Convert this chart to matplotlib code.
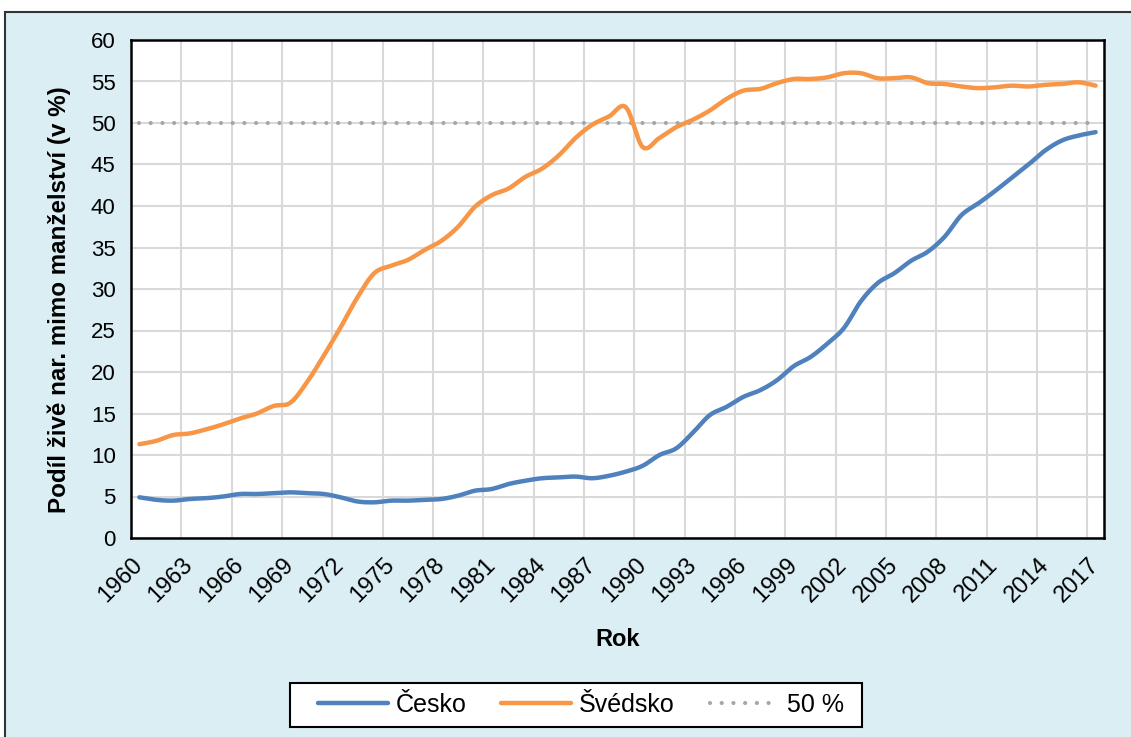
import numpy as np
import matplotlib
matplotlib.use('Agg')
import matplotlib.pyplot as plt
from matplotlib.patches import Rectangle

plt.rcParams['font.family'] = ['Liberation Sans', 'DejaVu Sans']

# ---------------------------------------------------------------------------
# data (share of live births outside marriage, %)
years = np.arange(1960, 2018)
cesko = [4.9, 4.6, 4.5, 4.7, 4.8, 5.0, 5.3, 5.3, 5.4, 5.5,
         5.4, 5.3, 4.9, 4.4, 4.3, 4.5, 4.5, 4.6, 4.7, 5.1,
         5.7, 5.9, 6.5, 6.9, 7.2, 7.3, 7.4, 7.2, 7.5, 8.0,
         8.7, 10.0, 10.8, 12.7, 14.8, 15.8, 17.0, 17.8, 19.0, 20.7,
         21.8, 23.4, 25.3, 28.5, 30.7, 31.9, 33.4, 34.5, 36.3, 38.9,
         40.3, 41.8, 43.4, 45.0, 46.7, 47.9, 48.5, 48.9]
svedsko = [11.3, 11.7, 12.4, 12.6, 13.1, 13.7, 14.4, 15.0, 15.9, 16.3,
           18.8, 22.0, 25.4, 29.0, 31.9, 32.8, 33.5, 34.7, 35.8, 37.5,
           39.9, 41.3, 42.1, 43.5, 44.5, 46.1, 48.2, 49.8, 50.8, 51.9,
           47.1, 48.2, 49.5, 50.4, 51.5, 52.9, 53.9, 54.1, 54.8, 55.3,
           55.3, 55.5, 56.0, 56.0, 55.4, 55.4, 55.5, 54.8, 54.7, 54.4,
           54.2, 54.3, 54.5, 54.4, 54.6, 54.7, 54.9, 54.5]
threshold = 50
labels = ['Česko', 'Švédsko', '50 %']
xtick_years = np.arange(1960, 2018, 3)

c_cz = '#4F81BD'
c_se = '#F79646'
c_bg = '#DAEEF3'


def smooth(x, y, n=12):
    # Catmull-Rom style smoothing, like Excel "smoothed line"
    x = np.asarray(x, float)
    y = np.asarray(y, float)
    px = np.concatenate([[2 * x[0] - x[1]], x, [2 * x[-1] - x[-2]]])
    py = np.concatenate([[2 * y[0] - y[1]], y, [2 * y[-1] - y[-2]]])
    xs, ys = [], []
    t = np.linspace(0, 1, n, endpoint=False)
    for i in range(1, len(px) - 2):
        for arr, out in ((px, xs), (py, ys)):
            p0, p1, p2, p3 = arr[i - 1], arr[i], arr[i + 1], arr[i + 2]
            out.extend(0.5 * ((2 * p1) + (-p0 + p2) * t
                              + (2 * p0 - 5 * p1 + 4 * p2 - p3) * t ** 2
                              + (-p0 + 3 * p1 - 3 * p2 + p3) * t ** 3))
    xs.append(x[-1])
    ys.append(y[-1])
    return np.array(xs), np.array(ys)


W, H = 1131, 737
fig = plt.figure(figsize=(W / 100, H / 100), dpi=100)
fig.patch.set_facecolor('white')
# light blue chart area with frame
fig.patches.append(Rectangle((5 / W, -0.02), 1.0, 1 - 12 / H + 0.02,
                             transform=fig.transFigure, facecolor=c_bg,
                             edgecolor='#333333', linewidth=1.5, zorder=-10))
# legend box (Excel style, wide padding)
fig.patches.append(Rectangle((290 / W, 1 - 727 / H), (862 - 290) / W, 44 / H,
                             transform=fig.transFigure, facecolor='white',
                             edgecolor='black', linewidth=1.5, zorder=-5))

ax = fig.add_axes([131 / W, 1 - 538 / H, (1104 - 131) / W, (538 - 40) / H])
ax.set_zorder(1)
ax.set_facecolor('white')

xs, ys = smooth(years, cesko)
ax.plot(xs, ys, color=c_cz, lw=3.2, solid_capstyle='round', label=labels[0], zorder=3)
xs, ys = smooth(years, svedsko)
ax.plot(xs, ys, color=c_se, lw=3.2, solid_capstyle='round', label=labels[1], zorder=3)
ax.plot([years[0], years[-1]], [threshold, threshold], color='#A6A6A6', lw=3,
        linestyle=(0, (0.01, 2.8)), dash_capstyle='round', label=labels[2], zorder=2)

ax.set_xlim(1959.5, 2017.5)
ax.set_ylim(0, 60)
ax.set_yticks(np.arange(0, 61, 5))
ax.set_xticks(xtick_years)
ax.set_xticks(np.arange(1962.5, 2017, 3), minor=True)
ax.grid(False)
ax.grid(True, which='minor', axis='x', color='#D9D9D9', lw=1.5)
ax.grid(True, which='major', axis='y', color='#D9D9D9', lw=1.5)
ax.set_axisbelow(True)
ax.tick_params(which='both', length=0, labelsize=16)
ax.tick_params(axis='y', pad=11)
ax.tick_params(axis='x', pad=17, labelsize=17)
for lab in ax.get_xticklabels():
    lab.set_rotation(45)
    lab.set_ha('right')
    lab.set_va('center')
    lab.set_rotation_mode('anchor')
for s in ax.spines.values():
    s.set_color('black')
    s.set_linewidth(1.8)

ax.set_xlabel('Rok', fontsize=17, fontweight='bold')
ax.xaxis.set_label_coords(0.5, (538 - 628) / 498)
ax.set_ylabel('Podíl živě nar. mimo manželství (v %)', fontsize=17.4, fontweight='bold')
ax.yaxis.set_label_coords((71 - 131) / 973, 0.478)

leg = fig.legend(loc='center', bbox_to_anchor=(581 / W, 1 - 705 / H), ncol=3,
                 fontsize=18, frameon=False, handlelength=2.8, columnspacing=1.4,
                 handletextpad=0.3, borderpad=0.35)

fig.savefig('out.png', dpi=100)
